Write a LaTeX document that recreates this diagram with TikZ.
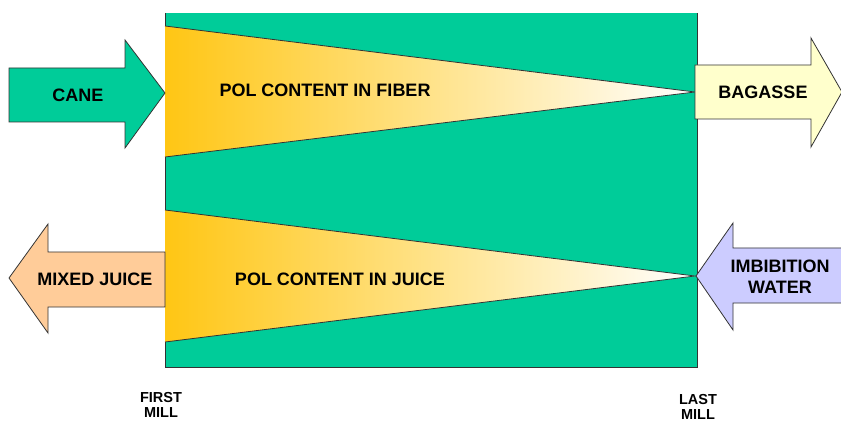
\documentclass[tikz,border=0pt]{standalone}
\usepackage{fontspec}
\setmainfont{Liberation Sans}
\begin{document}
\begin{tikzpicture}[x=1pt,y=-1pt,
  edge/.style={draw=black!80,line width=0.8pt,line join=miter},
  lbl/.style={font=\fontsize{18}{21}\selectfont\bfseries,text=black,align=center,inner sep=0pt},
  mill/.style={font=\fontsize{14.5}{15.5}\selectfont\bfseries,text=black,align=center,inner sep=0pt}]
\definecolor{mgreen}{RGB}{0,204,153}
\definecolor{wedge}{RGB}{255,198,20}
\definecolor{bag}{RGB}{255,255,204}
\definecolor{juice}{RGB}{255,204,153}
\definecolor{water}{RGB}{204,204,255}
\useasboundingbox (0,0) rectangle (841,422);

% mill tandem block
\fill[mgreen] (165,13) rectangle (697,367);
\draw[black!80,line width=0.9pt] (165,13) -- (165,367) -- (697,367) -- (697,13);

% pol content wedges
\shade[left color=wedge,right color=white] (165,26) -- (695,92) -- (165,157) -- cycle;
\draw[edge] (165,26) -- (695,92) -- (165,157);
\shade[left color=wedge,right color=white] (165,210) -- (695,276) -- (165,342) -- cycle;
\draw[edge] (165,210) -- (695,276) -- (165,342);

% input / output arrows
\filldraw[edge,fill=mgreen] (9,68) -- (125,68) -- (125,40) -- (165,93) -- (125,148) -- (125,122) -- (9,122) -- cycle;
\filldraw[edge,fill=bag] (695,65) -- (811,65) -- (811,38) -- (842,92) -- (811,147) -- (811,119) -- (695,119) -- cycle;
\filldraw[edge,fill=juice] (165,252) -- (48,252) -- (48,224) -- (9,278) -- (48,333) -- (48,307) -- (165,307) -- cycle;
\filldraw[edge,fill=water] (850,248) -- (733,248) -- (733,223) -- (696,276) -- (733,330) -- (733,303) -- (850,303);

% labels
\node[lbl] (cane) at (78,95) {CANE};
\node[lbl] (bagasse) at (763,92) {BAGASSE};
\node[lbl] (mixed) at (95,279) {MIXED JUICE};
\node[lbl] (imbib) at (780,277) {IMBIBITION\\WATER};
\node[lbl] (fiber) at (325,90) {POL CONTENT IN FIBER};
\node[lbl] (juicepol) at (340,279) {POL CONTENT IN JUICE};
\node[mill] (first) at (161,405) {FIRST\\MILL};
\node[mill] (last) at (698,407) {LAST\\MILL};
\end{tikzpicture}
\end{document}
